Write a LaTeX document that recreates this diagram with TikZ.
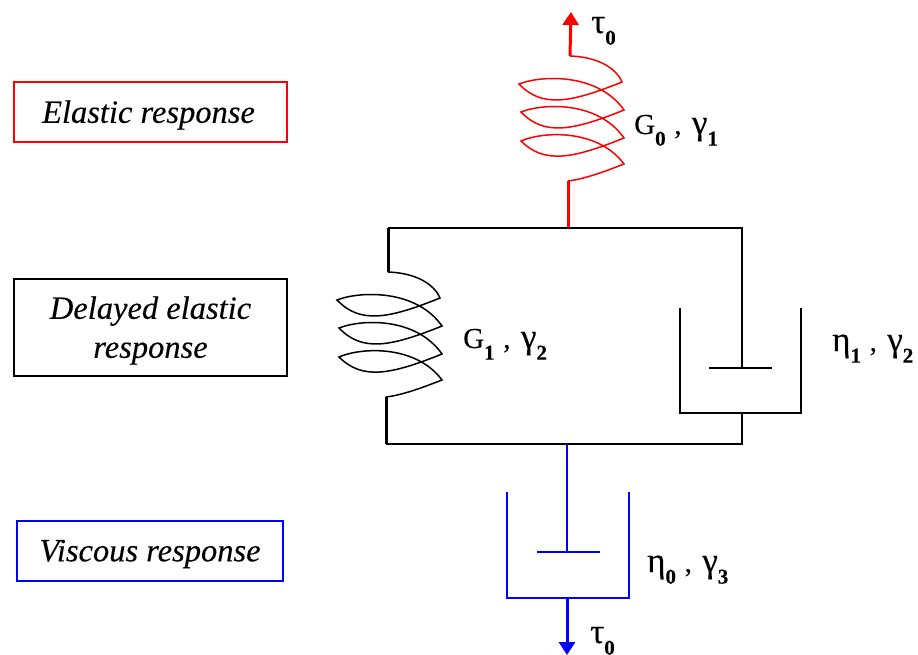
\documentclass[tikz,border=0pt]{standalone}
\usepackage{fontspec}
\setmainfont{Liberation Serif}
\newfontfamily\heavyserif[FakeBold=0.25]{Liberation Serif}
\newfontfamily\heavyital[FakeBold=0.2,UprightFont=*,ItalicFont=*]{Liberation Serif Italic}
\usetikzlibrary{arrows.meta}
\definecolor{rred}{RGB}{255,0,0}
\definecolor{rblue}{RGB}{0,0,255}
\newcommand{\subs}[1]{\raisebox{-0.4em}{\fontsize{21}{21}\selectfont\bfseries #1}}
\newcommand{\grk}[1]{{\fontsize{35}{35}\selectfont\heavyserif #1}}
\newcommand{\symlab}[4]{#1\subs{#2}\hspace{0.3em}{,}\hspace{0.36em}#3\subs{#4}}
\newcommand{\lowered}[1]{\raisebox{0pt}[\dimexpr\height+6pt\relax][\depth]{#1}}
\newcommand{\coilpath}{
  (0,0) .. controls (28,1) and (46,12) .. (52,26)
  .. controls (0,47) and (-28,52) .. (-51,28)
  .. controls (-28,19) and (28,17) .. (54,54)
  .. controls (2,75) and (-26,80) .. (-49,56)
  .. controls (-26,47) and (28,45) .. (54,82)
  .. controls (2,103) and (-26,108) .. (-49,85)
  .. controls (-26,75) and (28,73) .. (54,108)
  .. controls (36,115) and (15,123) .. (-2,125)
}
\begin{document}
\begin{tikzpicture}[x=1pt,y=-1pt,
  respbox/.style={draw,line width=1.4pt,minimum height=60pt,inner sep=0pt,align=center,font=\fontsize{32.5}{39}\selectfont\heavyital},
  lab/.style={font=\fontsize{29}{29}\selectfont\heavyserif,anchor=base west,inner sep=0pt},
  thin line/.style={line width=1.8pt,line join=miter},
  thick line/.style={line width=3pt},
  coil/.style={line width=1.5pt},
  tip/.style={-{Triangle[length=13pt,width=16pt]}}]
\useasboundingbox (0,0) rectangle (918,655);
\fill[white] (0,0) rectangle (918,655);
% response boxes
\node[respbox,draw=rred,minimum width=273pt] (elastic) at (150.5,112) {\kern-4pt\lowered{Elastic response}};
\node[respbox,draw=black,minimum width=273pt,minimum height=97pt] (delayed) at (150.5,327.5) {\lowered{\setlength{\tabcolsep}{0pt}\begin{tabular}{c}Delayed elastic\\response\end{tabular}}};
\node[respbox,draw=rblue,minimum width=266pt] (viscous) at (150,551) {\lowered{Viscous response}};
% named points
\coordinate (tipTop) at (571,12);
\coordinate (redA) at (570,56);
\coordinate (redB) at (568,181);
\coordinate (topJ) at (568,228);
\coordinate (tl) at (388,228);
\coordinate (tr) at (742,228);
\coordinate (blkA) at (388,272);
\coordinate (blkB) at (386,397);
\coordinate (bl) at (386,444);
\coordinate (br) at (742,444);
\coordinate (botJ) at (567,444);
\coordinate (rodR) at (742,368);
\coordinate (pistRL) at (709,368);
\coordinate (pistRR) at (772,368);
\coordinate (cupRa) at (680,308);
\coordinate (cupRb) at (680,413);
\coordinate (cupRc) at (801,413);
\coordinate (cupRd) at (801,308);
\coordinate (cupRm) at (742,413);
\coordinate (rodB) at (567,552);
\coordinate (pistBL) at (537,552);
\coordinate (pistBR) at (600,552);
\coordinate (cupBa) at (507,492);
\coordinate (cupBb) at (507,598);
\coordinate (cupBc) at (629,598);
\coordinate (cupBd) at (629,492);
\coordinate (cupBm) at (567,598);
\coordinate (tipBot) at (567,655);
% red spring
\draw[thick line,rred,tip] (redA) -- (tipTop);
\begin{scope}[shift={(redA)}]
\draw[coil,rred] \coilpath;
\end{scope}
\draw[thick line,rred] (redB) -- (topJ);
% frame
\draw[thin line] (tl) -- (tr) -- (rodR);
\draw[thin line] (bl) -- (br) -- (cupRm);
\draw[thin line] (pistRL) -- (pistRR);
\draw[thin line] (cupRa) -- (cupRb) -- (cupRc) -- (cupRd);
% black spring
\draw[thick line] (tl) -- (blkA);
\begin{scope}[shift={(blkA)}]
\draw[coil] \coilpath;
\end{scope}
\draw[thick line] (blkB) -- (bl);
% blue dashpot
\draw[thin line,rblue] (botJ) -- (rodB);
\draw[thin line,rblue] (pistBL) -- (pistBR);
\draw[thin line,rblue] (cupBa) -- (cupBb) -- (cupBc) -- (cupBd);
\draw[thick line,rblue,tip] (cupBm) -- (tipBot);
% labels
\node[lab] (tauT) at (591,33) {\grk{τ}\subs{0}};
\node[lab] (g0) at (634,134) {\symlab{G}{0}{\grk{γ}}{1}};
\node[lab] (g1) at (463,348) {\symlab{G}{1}{\grk{γ}}{2}};
\node[lab] (e1) at (832,351) {\symlab{\grk{η}}{1}{\grk{γ}}{2}};
\node[lab] (e0) at (647,572) {\symlab{\grk{η}}{0}{\grk{γ}}{3}};
\node[lab] (tauB) at (590,643) {\grk{τ}\subs{0}};
\end{tikzpicture}
\end{document}
